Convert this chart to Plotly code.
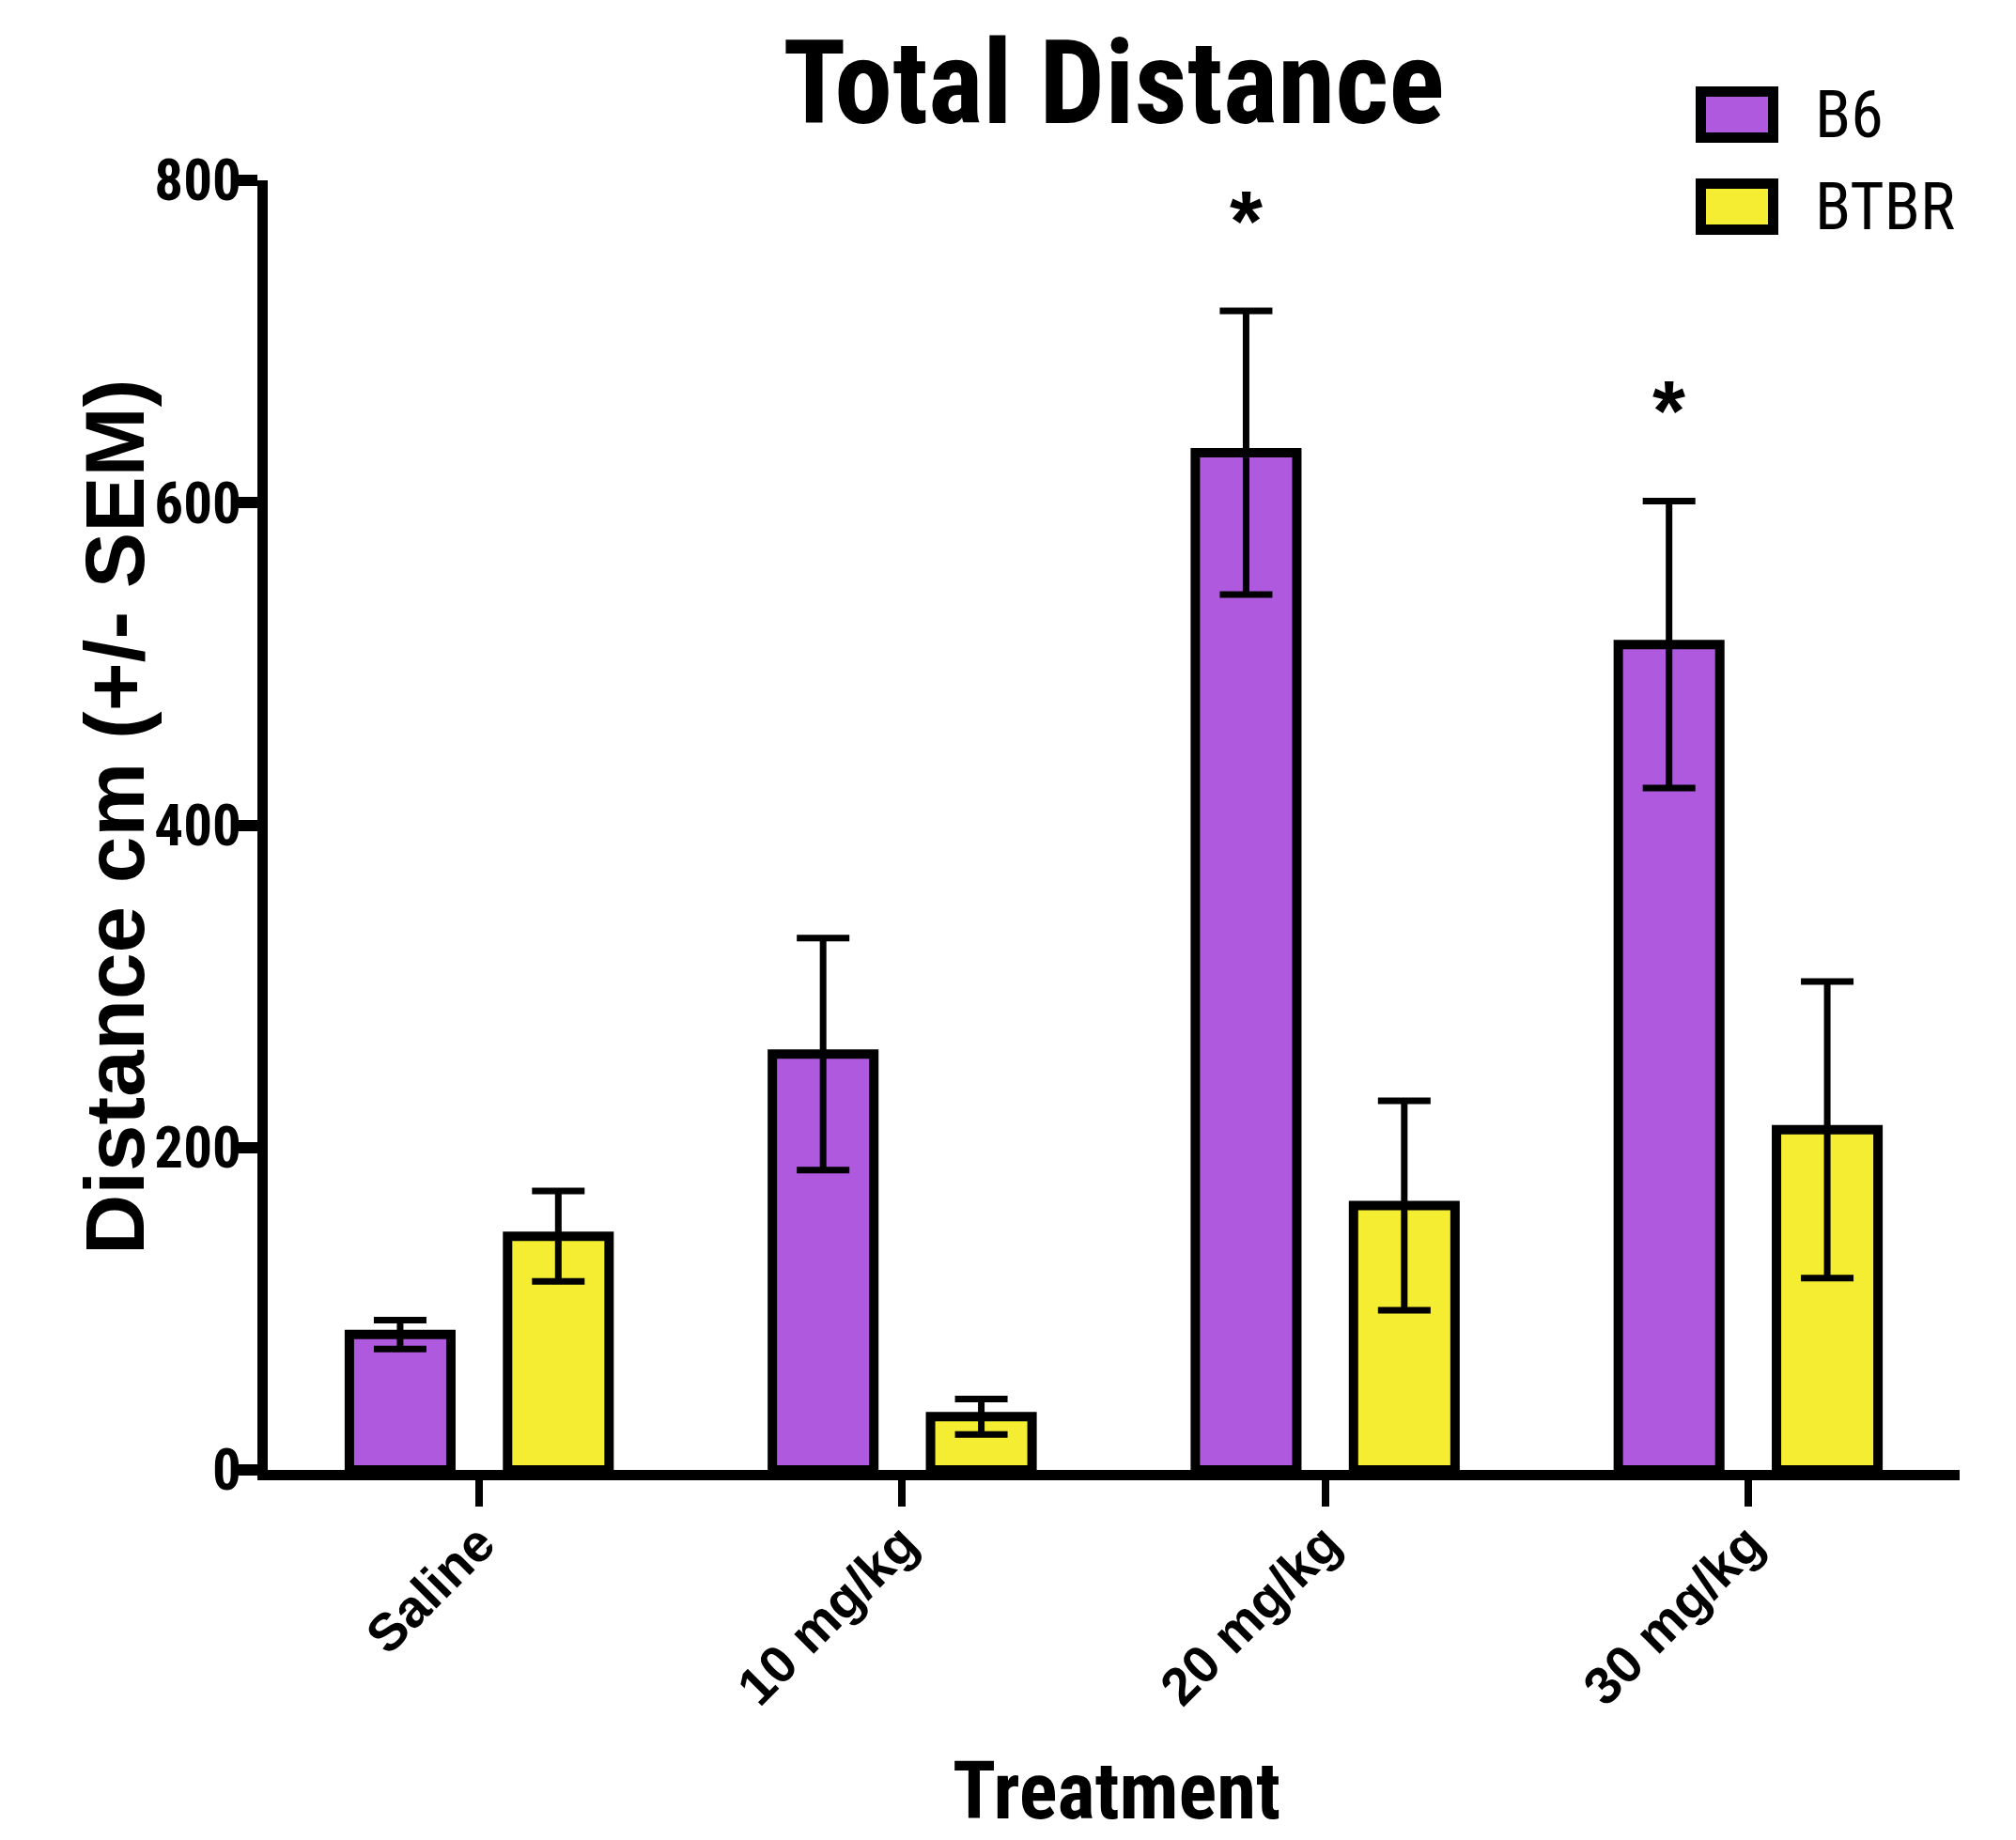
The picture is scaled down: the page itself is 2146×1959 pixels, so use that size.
import plotly.graph_objects as go

categories = ["Saline", "10 mg/kg", "20 mg/kg", "30 mg/kg"]
b6_mean = [84, 258, 631, 512]
b6_sem = [9, 72, 88, 89]
btbr_mean = [145, 33, 164, 211]
btbr_sem = [28, 11, 65, 92]
b6_sig = ["", "", "*", "*"]
btbr_sig = ["", "", "", ""]
y_ticks = [0, 200, 400, 600, 800]

W, H = 2146, 1959
ML, MR, MT, MB = 285, 60, 192, 394
PW, PH = W - ML - MR, H - MT - MB

def px_x(px):
    return (px - ML) / PW

def px_y(py):
    return (H - MB - py) / PH

PURPLE = "#AF5ADE"
YELLOW = "#F4ED32"
NARROW = "Roboto Condensed"
ARIAL = "Liberation Sans"
BAR_W = 0.24
OFF = 0.187

fig = go.Figure()
for name, mean, sem, color, sign in [
    ("B6", b6_mean, b6_sem, PURPLE, -1),
    ("BTBR", btbr_mean, btbr_sem, YELLOW, 1),
]:
    fig.add_trace(go.Bar(
        name=name, x=categories, y=mean,
        width=BAR_W, offset=sign * OFF - BAR_W / 2,
        marker=dict(color=color, line=dict(color="black", width=10)),
        error_y=dict(type="data", array=sem, visible=True, color="black",
                     thickness=7, width=28),
        showlegend=False,
    ))

# significance markers
for i, (s, m, e) in enumerate(zip(b6_sig, b6_mean, b6_sem)):
    if s:
        fig.add_annotation(x=i - OFF, y=m + e + 62, xref="x", yref="y", text=s,
                           showarrow=False, yanchor="middle", yshift=-11,
                           font=dict(family=ARIAL, size=90, color="black", weight="bold"))
for i, (s, m, e) in enumerate(zip(btbr_sig, btbr_mean, btbr_sem)):
    if s:
        fig.add_annotation(x=i + OFF, y=m + e + 62, xref="x", yref="y", text=s,
                           showarrow=False, yanchor="middle", yshift=-11,
                           font=dict(family=ARIAL, size=90, color="black", weight="bold"))

# manual legend
for (label, color, y0, y1) in [("B6", PURPLE, 92, 152), ("BTBR", YELLOW, 190, 250)]:
    fig.add_shape(type="rect", xref="paper", yref="paper",
                  x0=px_x(1805 + 5.5), x1=px_x(1893 - 5.5),
                  y0=px_y(y0 + 5.5), y1=px_y(y1 - 5.5),
                  fillcolor=color, line=dict(color="black", width=11))
    fig.add_annotation(xref="paper", yref="paper", x=px_x(1930), y=px_y((y0 + y1) / 2),
                       text=label, showarrow=False, xanchor="left", yanchor="middle",
                       font=dict(family=NARROW, size=70, color="black"))

# axis titles
fig.add_annotation(xref="paper", yref="paper", x=px_x(1188), y=px_y(1907),
                   text="Treatment", showarrow=False, xanchor="center", yanchor="middle",
                   font=dict(family=NARROW, size=85, color="black", weight="bold"))
fig.add_annotation(xref="paper", yref="paper", x=px_x(122), y=px_y(870),
                   text="Distance cm (+/- SEM)", showarrow=False, textangle=-90,
                   xanchor="center", yanchor="middle",
                   font=dict(family=ARIAL, size=89, color="black", weight="bold"))

fig.update_layout(
    width=W, height=H,
    margin=dict(l=ML, r=MR, t=MT, b=MB, autoexpand=False),
    paper_bgcolor="white", plot_bgcolor="white",
    title=dict(text="Total Distance", x=0.5, xref="paper", y=1 - 88 / H, yref="container",
               xanchor="center", yanchor="middle",
               font=dict(family=NARROW, size=124, color="black", weight="bold")),
    barmode="overlay",
    xaxis=dict(range=[-0.5, 3.5], showline=True, linewidth=11, linecolor="black",
               ticks="outside", ticklen=28, tickwidth=8, tickcolor="black",
               tickangle=-45, showgrid=False, zeroline=False, ticklabelstandoff=-16,
               tickfont=dict(family=ARIAL, size=56, color="black", weight="bold")),
    yaxis=dict(range=[0, 800], tickvals=y_ticks, showline=True, linewidth=11,
               linecolor="black", ticks="outside", ticklen=25, tickwidth=12,
               tickcolor="black", showgrid=False, zeroline=False, ticklabelstandoff=-20,
               tickfont=dict(family=NARROW, size=61, color="black", weight="bold")),
)

fig.write_html("out.html")
